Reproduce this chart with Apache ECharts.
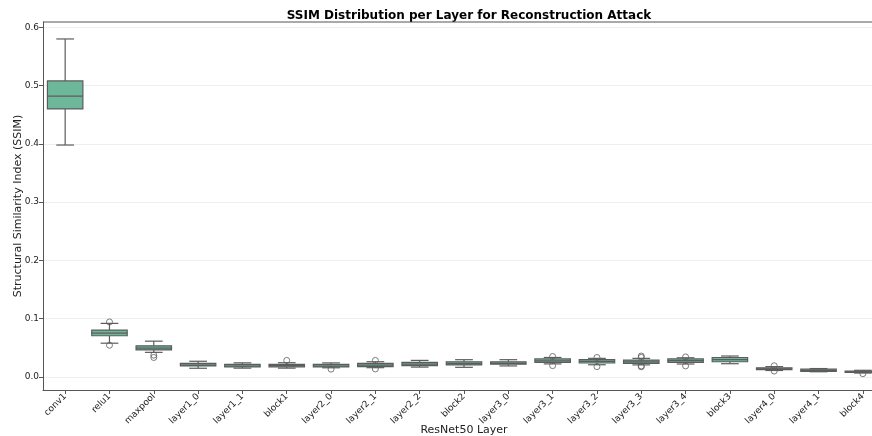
<!DOCTYPE html>
<html>
<head>
<meta charset="utf-8">
<script src="https://cdn.jsdelivr.net/npm/echarts@6/dist/echarts.min.js"></script>
<style>
  html, body { margin: 0; padding: 0; background: #fff; }
  #chart { width: 872px; height: 436px; }
</style>
</head>
<body>
<div id="chart"></div>
<script>
// Layers of ResNet50 probed by the reconstruction attack
const categories = ['conv1', 'relu1', 'maxpool', 'layer1_0', 'layer1_1', 'block1',
  'layer2_0', 'layer2_1', 'layer2_2', 'block2', 'layer3_0', 'layer3_1', 'layer3_2',
  'layer3_3', 'layer3_4', 'block3', 'layer4_0', 'layer4_1', 'block4'];

// Five-number summaries of SSIM per layer
const whiskerLow  = [0.398, 0.058, 0.0423, 0.015, 0.0152, 0.0152, 0.0158, 0.016, 0.017, 0.0166, 0.019, 0.0225, 0.021, 0.0208, 0.0223, 0.0228, 0.0112, 0.009, 0.0068];
const q1          = [0.460, 0.0708, 0.0465, 0.019, 0.0172, 0.0175, 0.0172, 0.0178, 0.0195, 0.0208, 0.022, 0.025, 0.024, 0.0235, 0.025, 0.0262, 0.0125, 0.0098, 0.008];
const median      = [0.482, 0.0752, 0.0497, 0.0205, 0.0185, 0.0195, 0.0185, 0.0205, 0.022, 0.023, 0.0235, 0.0278, 0.0268, 0.026, 0.028, 0.0297, 0.0138, 0.0113, 0.009];
const q3          = [0.508, 0.0805, 0.0535, 0.0235, 0.0215, 0.0218, 0.0215, 0.0235, 0.025, 0.026, 0.026, 0.031, 0.0297, 0.029, 0.031, 0.0335, 0.0158, 0.0135, 0.0103];
const whiskerHigh = [0.580, 0.092, 0.0615, 0.027, 0.0243, 0.0245, 0.0242, 0.0262, 0.0285, 0.0297, 0.0297, 0.0335, 0.032, 0.032, 0.033, 0.036, 0.0178, 0.0145, 0.0115];

// Outlying samples: [layer, SSIM]
const outliers = [
  ['relu1', 0.0945], ['relu1', 0.0545],
  ['maxpool', 0.0375], ['maxpool', 0.0335],
  ['block1', 0.0285],
  ['layer2_0', 0.0135],
  ['layer2_1', 0.0285], ['layer2_1', 0.0138],
  ['layer3_1', 0.0352], ['layer3_1', 0.0195],
  ['layer3_2', 0.0335], ['layer3_2', 0.0178],
  ['layer3_3', 0.036], ['layer3_3', 0.0337], ['layer3_3', 0.019], ['layer3_3', 0.0175],
  ['layer3_4', 0.0345], ['layer3_4', 0.019],
  ['layer4_0', 0.0193], ['layer4_0', 0.0102],
  ['block4', 0.0057]
];

const yTicks = [0.0, 0.1, 0.2, 0.3, 0.4, 0.5, 0.6];

const boxFill = '#6db89a';
const lineGray = '#5c5c5c';
const FONT = 'DejaVu Sans';

const boxData = categories.map((c, i) => [i, whiskerLow[i], q1[i], median[i], q3[i], whiskerHigh[i]]);

function renderBox(params, api) {
  const idx = api.value(0);
  const band = api.size([1, 0])[0];
  const boxW = band * 0.8;
  const capW = band * 0.4;
  const x = api.coord([idx, 0])[0];
  const yLo = api.coord([idx, api.value(1)])[1];
  const yQ1 = api.coord([idx, api.value(2)])[1];
  const yMed = api.coord([idx, api.value(3)])[1];
  const yQ3 = api.coord([idx, api.value(4)])[1];
  const yHi = api.coord([idx, api.value(5)])[1];
  const ls = { stroke: lineGray, lineWidth: 1.2 };
  return {
    type: 'group',
    children: [
      { type: 'line', shape: { x1: x, y1: yQ3, x2: x, y2: yHi }, style: ls },
      { type: 'line', shape: { x1: x, y1: yQ1, x2: x, y2: yLo }, style: ls },
      { type: 'line', shape: { x1: x - capW / 2, y1: yHi, x2: x + capW / 2, y2: yHi }, style: ls },
      { type: 'line', shape: { x1: x - capW / 2, y1: yLo, x2: x + capW / 2, y2: yLo }, style: ls },
      { type: 'rect', shape: { x: x - boxW / 2, y: yQ3, width: boxW, height: Math.max(yQ1 - yQ3, 0.5) },
        style: { fill: boxFill, stroke: lineGray, lineWidth: 1.2 } },
      { type: 'line', shape: { x1: x - boxW / 2, y1: yMed, x2: x + boxW / 2, y2: yMed }, style: ls }
    ]
  };
}

const chart = echarts.init(document.getElementById('chart'), null, { renderer: 'canvas' });
chart.setOption({
  animation: false,
  backgroundColor: '#ffffff',
  title: {
    text: 'SSIM Distribution per Layer for Reconstruction Attack',
    left: 464,
    top: 5,
    textAlign: 'center',
    textStyle: { fontFamily: FONT, fontSize: 12, fontWeight: 'bold', color: '#000' }
  },
  grid: { left: 43, right: -13, top: 22, bottom: 46, outerBoundsMode: 'none', containLabel: false },
  xAxis: {
    type: 'category',
    data: categories,
    boundaryGap: true,
    name: 'ResNet50 Layer',
    nameLocation: 'middle',
    nameGap: 35,
    nameMoveOverlap: false,
    nameTextStyle: { fontFamily: FONT, fontSize: 11, color: '#222' },
    axisLine: { show: true, onZero: false, lineStyle: { color: '#555', width: 1 } },
    axisTick: { show: true, alignWithLabel: true, length: 4, lineStyle: { color: '#555' } },
    axisLabel: { rotate: 45, fontFamily: FONT, fontSize: 9, color: '#222', margin: 5, interval: 0 },
    splitLine: { show: false }
  },
  yAxis: {
    type: 'value',
    min: -0.0223,
    max: 0.6091,
    name: 'Structural Similarity Index (SSIM)',
    nameLocation: 'middle',
    nameGap: 19,
    nameMoveOverlap: false,
    nameTextStyle: { fontFamily: FONT, fontSize: 11, color: '#222' },
    axisLine: { show: true, lineStyle: { color: '#555', width: 1 } },
    axisTick: { show: true, length: 4, lineStyle: { color: '#555' }, customValues: yTicks },
    axisLabel: { fontFamily: FONT, fontSize: 9, color: '#222', margin: 4,
      customValues: yTicks, formatter: v => v.toFixed(1) },
    splitLine: { show: true, lineStyle: { color: '#ebebeb', width: 0.8 } }
  },
  series: [
    {
      type: 'custom',
      renderItem: renderBox,
      data: boxData,
      encode: { x: 0, y: [1, 2, 3, 4, 5] },
      z: 3
    },
    {
      type: 'scatter',
      data: outliers,
      symbol: 'circle',
      symbolSize: 6,
      itemStyle: { color: 'rgba(0,0,0,0)', borderColor: lineGray, borderWidth: 1 },
      z: 4
    }
  ],
  graphic: [
    // top frame line of the plotting area
    { type: 'line', shape: { x1: 43, y1: 22, x2: 872, y2: 22 }, style: { stroke: '#555', lineWidth: 1 }, z: 10 }
  ]
});
</script>
</body>
</html>
